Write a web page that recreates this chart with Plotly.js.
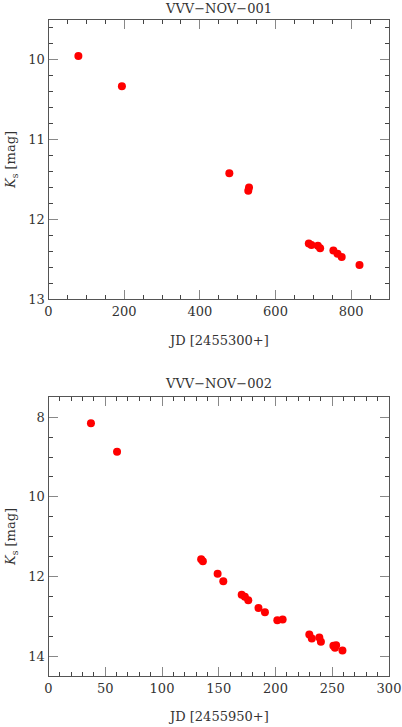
<!DOCTYPE html>
<html>
<head>
<meta charset="utf-8">
<script src="https://cdn.plot.ly/plotly-3.0.1.min.js"></script>
<style>
  html, body { margin: 0; padding: 0; background: #fff; }
  #chart { width: 402px; height: 727px; }
</style>
</head>
<body>
<div id="chart"></div>
<script>
// VVV-NOV-001 light curve
const jd1 = [79, 194, 478, 528, 530, 688, 695, 712, 718, 753, 764, 775, 822];
const ks1 = [9.95, 10.33, 11.42, 11.64, 11.60, 12.30, 12.32, 12.33, 12.36, 12.39, 12.43, 12.47, 12.57];

// VVV-NOV-002 light curve
const jd2 = [37.4, 60.4, 134.5, 136, 149, 154, 170.2, 173, 176, 185, 190.7, 201.6, 206.3,
             229.8, 232, 238.6, 240, 251, 252.4, 253.4, 259];
const ks2 = [8.15, 8.87, 11.57, 11.62, 11.93, 12.12, 12.46, 12.51, 12.60, 12.79, 12.90, 13.10, 13.08,
             13.46, 13.56, 13.53, 13.64, 13.74, 13.79, 13.73, 13.86];

const titles = ['VVV\u2212NOV\u2212001', 'VVV\u2212NOV\u2212002'];
const xTitles = ['JD [2455300+]', 'JD [2455950+]'];

const font = { family: 'DejaVu Serif', size: 13, color: '#333' };
const xDom = [48.5 / 402, 389 / 402];
const yDom1 = [1 - 299.3 / 727, 1 - 20 / 727];
const yDom2 = [1 - 676 / 727, 1 - 397.3 / 727];

function axisBase() {
  return {
    showgrid: false,
    zeroline: false,
    showline: true,
    linecolor: '#555',
    linewidth: 1,
    mirror: 'allticks',
    ticks: 'inside',
    ticklen: 9,
    tickcolor: '#888',
    tickwidth: 1,
    tickfont: font,
    fixedrange: true
  };
}

const marker = { color: '#ff0000', size: 8 };

const traces = [
  { x: jd1, y: ks1, type: 'scatter', mode: 'markers', marker: marker, xaxis: 'x', yaxis: 'y', hoverinfo: 'x+y' },
  { x: jd2, y: ks2, type: 'scatter', mode: 'markers', marker: marker, xaxis: 'x2', yaxis: 'y2', hoverinfo: 'x+y' }
];

const layout = {
  width: 402,
  height: 727,
  margin: { t: 0, r: 0, b: 0, l: 0 },
  paper_bgcolor: '#fff',
  plot_bgcolor: '#fff',
  showlegend: false,
  font: font,
  xaxis: Object.assign(axisBase(), {
    domain: xDom, anchor: 'y', range: [0, 900], dtick: 200, tick0: 0,
    minor: { dtick: 50, ticks: 'inside', ticklen: 4, tickcolor: '#444' }
  }),
  yaxis: Object.assign(axisBase(), {
    domain: yDom1, anchor: 'x', range: [13, 9.5], dtick: 1, tick0: 10,
    minor: { dtick: 0.2, ticks: 'inside', ticklen: 4, tickcolor: '#444' }
  }),
  xaxis2: Object.assign(axisBase(), {
    domain: xDom, anchor: 'y2', range: [0, 300], dtick: 50, tick0: 0,
    minor: { dtick: 10, ticks: 'inside', ticklen: 4, tickcolor: '#444' }
  }),
  yaxis2: Object.assign(axisBase(), {
    domain: yDom2, anchor: 'x2', range: [14.5, 7.5], dtick: 2, tick0: 8,
    minor: { dtick: 0.5, ticks: 'inside', ticklen: 4, tickcolor: '#444' }
  }),
  annotations: [
    { text: titles[0], x: 0.543, y: 1 - 9 / 727 },
    { text: titles[1], x: 0.543, y: 1 - 383 / 727 },
    { text: xTitles[0], x: 0.543, y: 1 - 340 / 727 },
    { text: xTitles[1], x: 0.543, y: 1 - 716 / 727 },
    { text: '<i>K</i><sub>s</sub> [mag]', x: 11 / 402, y: 1 - 160 / 727, textangle: -90 },
    { text: '<i>K</i><sub>s</sub> [mag]', x: 11 / 402, y: 1 - 537 / 727, textangle: -90 }
  ].map(a => Object.assign({
    xref: 'paper', yref: 'paper', showarrow: false,
    xanchor: 'center', yanchor: 'middle', font: font
  }, a))
};

Plotly.newPlot('chart', traces, layout, { displayModeBar: false, staticPlot: true });
</script>
</body>
</html>
